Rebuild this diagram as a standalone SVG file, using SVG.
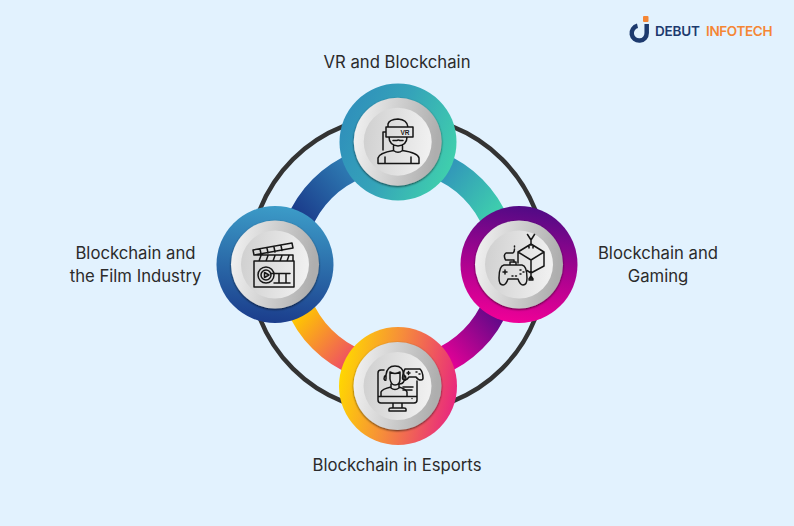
<svg xmlns="http://www.w3.org/2000/svg" width="794" height="526" viewBox="0 0 794 526">
<style>
.lb{font-family:"Inter","Open Sans",sans-serif;font-size:16.7px;fill:#2b2b2b;text-anchor:middle}
.ic{fill:none;stroke:#161616;stroke-width:1.5;stroke-linecap:round;stroke-linejoin:round}
.arc{fill:none;stroke-width:27}
.lg{font-family:"Inter","Liberation Sans",sans-serif;font-size:13.5px;font-weight:600}
</style>
<defs>
<linearGradient id="gT" x1="0" y1="0.3" x2="1" y2="0.7"><stop offset="0" stop-color="#2f8fbb"/><stop offset="0.45" stop-color="#35a3b9"/><stop offset="1" stop-color="#40d2ac"/></linearGradient>
<linearGradient id="gR" x1="0.6" y1="0" x2="0.45" y2="1"><stop offset="0" stop-color="#4f0a85"/><stop offset="0.5" stop-color="#a4038f"/><stop offset="1" stop-color="#f00097"/></linearGradient>
<linearGradient id="gL" x1="0.55" y1="0" x2="0.45" y2="1"><stop offset="0" stop-color="#3c9cc8"/><stop offset="1" stop-color="#1b3d8c"/></linearGradient>
<linearGradient id="gB" x1="0" y1="0.4" x2="1" y2="0.6"><stop offset="0" stop-color="#ffd800"/><stop offset="0.45" stop-color="#f68d3a"/><stop offset="1" stop-color="#e8267f"/></linearGradient>
<linearGradient id="aTL" gradientUnits="userSpaceOnUse" x1="298" y1="212" x2="352" y2="165"><stop offset="0" stop-color="#1b3d8c"/><stop offset="1" stop-color="#2f7fb5"/></linearGradient>
<linearGradient id="aTR" gradientUnits="userSpaceOnUse" x1="440" y1="165" x2="500" y2="212"><stop offset="0" stop-color="#3090bb"/><stop offset="1" stop-color="#3fd0ad"/></linearGradient>
<linearGradient id="aBR" gradientUnits="userSpaceOnUse" x1="500" y1="315" x2="445" y2="365"><stop offset="0" stop-color="#5c0a88"/><stop offset="1" stop-color="#ec0097"/></linearGradient>
<linearGradient id="aBL" gradientUnits="userSpaceOnUse" x1="295" y1="318" x2="350" y2="365"><stop offset="0" stop-color="#ffc800"/><stop offset="1" stop-color="#ee4a68"/></linearGradient>
<linearGradient id="sv" x1="0" y1="0" x2="1" y2="0.15"><stop offset="0" stop-color="#f4f4f4"/><stop offset="1" stop-color="#aeaeae"/></linearGradient>
<linearGradient id="dk" x1="0" y1="0" x2="1" y2="0.1"><stop offset="0" stop-color="#cfcfcf"/><stop offset="1" stop-color="#f0f0f0"/></linearGradient>
<filter id="sh" x="-20%" y="-20%" width="140%" height="140%"><feDropShadow dx="0" dy="1" stdDeviation="1.3" flood-color="#000" flood-opacity="0.65"/></filter>
<g id="disc"><circle r="44" fill="url(#sv)" filter="url(#sh)"/><circle r="34" fill="url(#dk)"/></g>
</defs>
<rect width="794" height="526" fill="#e2f2fe"/>
<g id="connectors">
<circle cx="397.500" cy="264" r="148" fill="none" stroke="#333" stroke-width="4.500"/>
<path class="arc" stroke="url(#aTL)" d="M291 264A106.500 106.500 0 0 1 397.500 157.500"/>
<path class="arc" stroke="url(#aTR)" d="M397.500 157.500A106.500 106.500 0 0 1 504 264"/>
<path class="arc" stroke="url(#aBR)" d="M504 264A106.500 106.500 0 0 1 397.500 370.500"/>
<path class="arc" stroke="url(#aBL)" d="M397.500 370.500A106.500 106.500 0 0 1 291 264"/>
</g>
<g id="node-vr">
<circle cx="398" cy="142" r="58.500" fill="url(#gT)"/>
<use href="#disc" x="397.700" y="141.700"/>
<path class="ic" d="M388 127V124Q389 119.500 398 119Q407 119.500 408 127M386 127H413V137H386ZM389 137Q389 145 398 146Q407 145 407 137M393.500 146V150.500Q398 154 402.500 150.500V146M383 132H386M383 132V150M378 163.500V158Q379 153 393.500 150.500M402.500 150.500Q418 153 419 158V163.500H378M385 163.500V157M411 163.500V157M393 140.500H397Q398 139.500 400 140.500H403"/>
<text x="405" y="134.500" font-family="Liberation Sans,sans-serif" font-size="6.500" font-weight="700" fill="#1c1c1c" text-anchor="middle">VR</text>
<text class="lb" x="397" y="68">VR and Blockchain</text>
</g>
<g id="node-gaming">
<circle cx="519" cy="264.500" r="58.500" fill="url(#gR)"/>
<use href="#disc" x="519" y="264.500"/>
<path class="ic" d="M518 263V252L531 244L544 252V266L531 273L527 270.500M518 252L531 260L544 252M531 260V273M531 244V240M527.500 234.500L531 240L534.500 234.500M529 248V245H533V248M531 273V279M529 280H533M531 276L529 279M531 276L533 279M514 262V260H505.500Q503 255 506 253H513Q514.500 252 514.500 249M514.500 247V246"/>
<path class="ic" d="M504 265H522Q527 266 527 278Q527 285 523 285Q520 285 518 279H508Q506 285 503 285Q499 285 499 278Q499 266 504 265ZM510 265V262H516V265M503 272H507M505 270V274M520 270H521M523 272H524M520 274H521M512 276H513M515.500 276H516.500"/>
<text class="lb" x="658" y="259">Blockchain and</text>
<text class="lb" x="658" y="282">Gaming</text>
</g>
<g id="node-film">
<circle cx="275" cy="264.500" r="58.500" fill="url(#gL)"/>
<use href="#disc" x="275" y="264.500"/>
<path class="ic" d="M254 261H294V287H254ZM254 255H293V261M253 250L292 243L293 248L254 255ZM260 249L261 254M267 248L268 253M274 247L275 252M281 245.500L282 250.500M261 255.500L259 261M268 255.500L266 261M275 255.500L273 261M282 255.500L280 261M289 255.500L287 261"/>
<circle class="ic" cx="266" cy="275" r="8"/><circle class="ic" cx="266" cy="275" r="5"/>
<path class="ic" d="M264.500 272.500L269 275L264.500 277.500ZM271 273.500H290M274 283H290M279 273.500V283M286 273.500V283"/>
<text class="lb" x="135.500" y="259">Blockchain and</text>
<text class="lb" x="135.500" y="282">the Film Industry</text>
</g>
<g id="node-esports">
<circle cx="398" cy="386" r="59" fill="url(#gB)"/>
<use href="#disc" x="397.500" y="386"/>
<path class="ic" d="M384 370H381Q378 370 378 373V400Q378 403 381 403H414Q417 403 417 400V381M378 396.500H417M393 403V408M402 403V408M389 411V409Q389 408 391 408H404Q406 408 406 409V411ZM381 396V392Q382 389 391 387M399 387Q406 389 407 392V396M391 384V388Q395 391 399 388V384M390 372V379Q391 385 395 385Q400 385 400 379V372Q395 375 390 372Z"/>
<path class="ic" d="M386 379V375Q387 366 395 366Q403 366 404 375V379M386 375Q384 376 384 379Q385 381 386 380M404 375Q406 376 406 379Q405 381 404 380M404 381Q403 384 399 384"/>
<path class="ic" d="M405 369H420Q423 372 423 378Q423 380 421 380Q418 380 416 377H409Q407 380 405 380Q402.500 380 402.500 378Q403 372 405 369ZM407 373H410M408.500 371.500V374.500M416 372H417M419 374H420M403 387H413M403 390H412"/>
<circle cx="412" cy="398.500" r="0.700" fill="#1c1c1c"/>
<text class="lb" x="397" y="471">Blockchain in Esports</text>
</g>
<g id="logo">
<path d="M646.700 24V33A7.500 7.500 0 1 1 637.500 25.800" fill="none" stroke="#1d3a6e" stroke-width="4.500"/>
<rect x="643" y="16" width="5.500" height="6" rx="1" fill="#f58634"/>
<text class="lg" x="655" y="35.500" fill="#1d3a6e" textLength="45" lengthAdjust="spacing">DEBUT</text>
<text class="lg" x="706" y="35.500" fill="#f58634" textLength="66.500" lengthAdjust="spacing">INFOTECH</text>
</g>
</svg>
